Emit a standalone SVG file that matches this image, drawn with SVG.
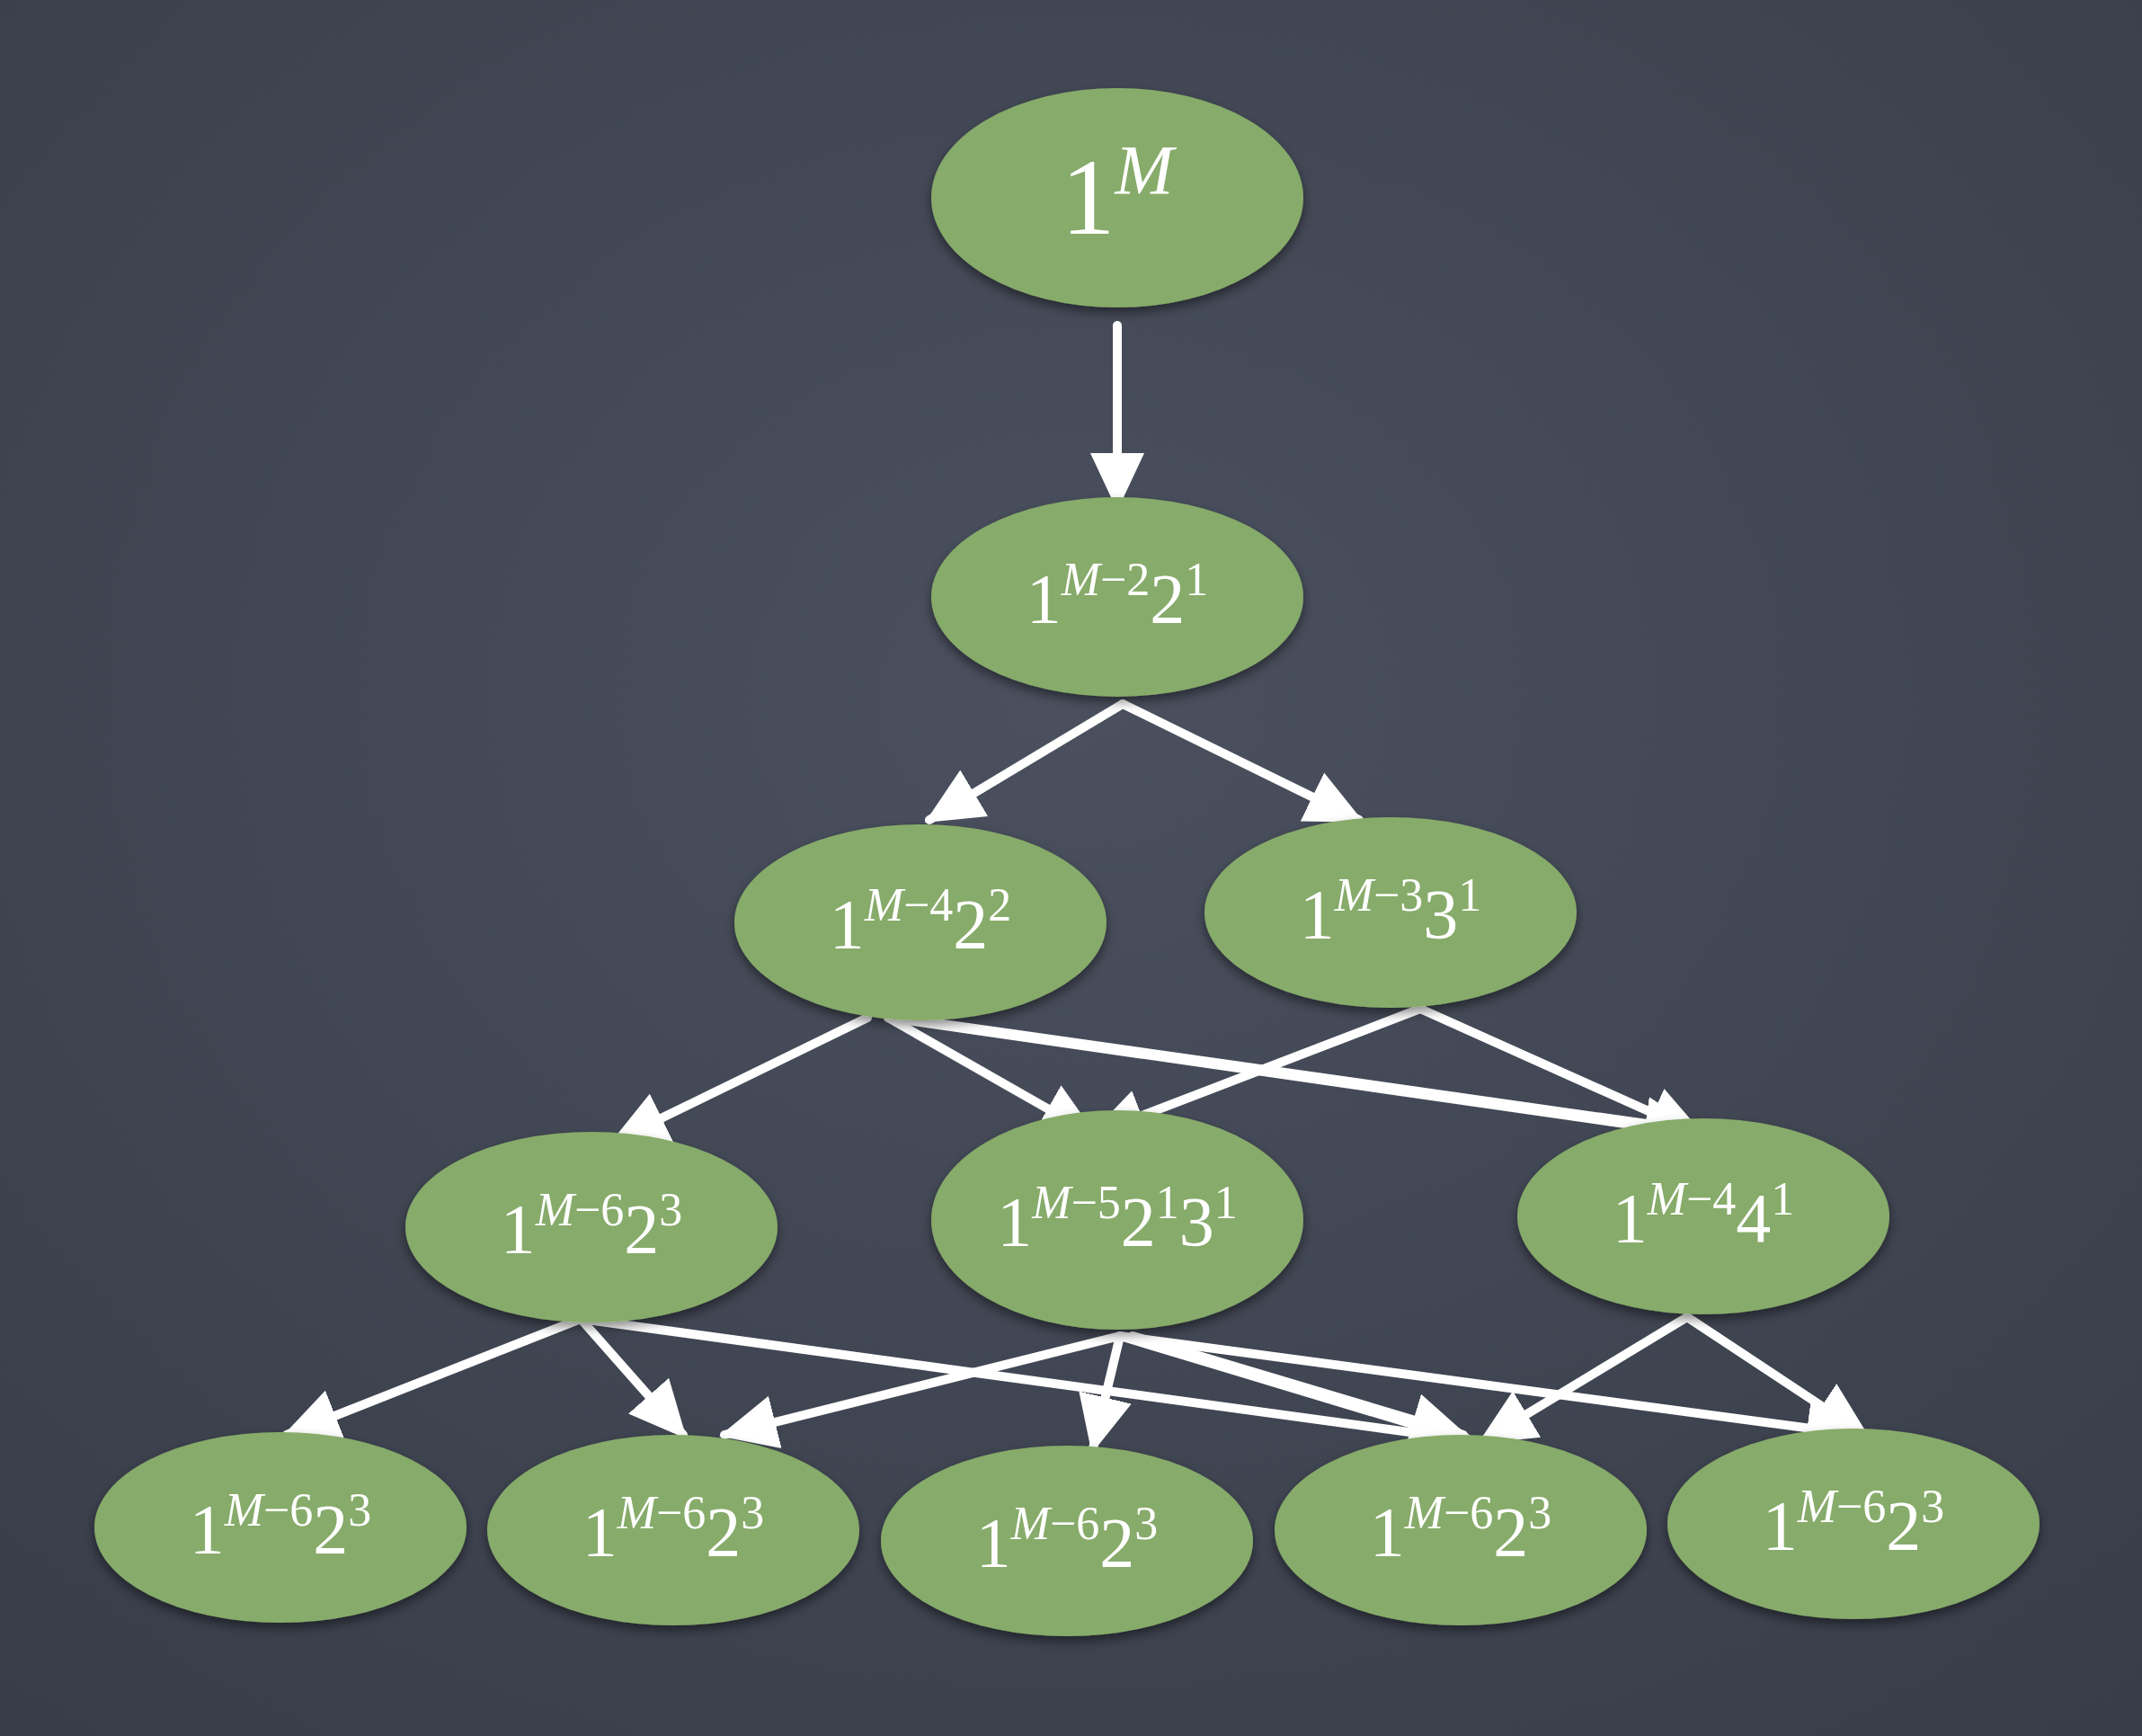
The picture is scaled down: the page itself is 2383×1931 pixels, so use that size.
<svg xmlns="http://www.w3.org/2000/svg" width="2383" height="1931" viewBox="0 0 2383 1931">
<defs>
<radialGradient id="bg" cx="0.5" cy="0.4" r="0.8"><stop offset="0" stop-color="#4a505e"/><stop offset="1" stop-color="#373c48"/></radialGradient>
<marker id="ah" markerWidth="70" markerHeight="70" refX="58" refY="35" orient="auto" markerUnits="userSpaceOnUse"><path d="M0,5 L64,35 L0,65 Z" fill="#fff"/></marker>
<filter id="sh" x="-20%" y="-20%" width="140%" height="150%"><feDropShadow dx="0" dy="6" stdDeviation="6" flood-color="#000" flood-opacity="0.45"/></filter>
</defs>
<style>
.n{fill:#87ab6a;filter:url(#sh)}
.t{font-family:"Liberation Serif","DejaVu Serif",serif;fill:#fff;text-anchor:middle;font-size:78px}
.s{font-size:52px}
.e line{stroke:#fff;stroke-width:10;stroke-linecap:round;marker-end:url(#ah)}
</style>
<rect width="2383" height="1931" fill="url(#bg)"/>
<g class="e" id="connectors">
<line x1="1243" y1="362" x2="1243" y2="562"/>
<line x1="1249" y1="783" x2="1034" y2="912"/>
<line x1="1249" y1="783" x2="1512" y2="912"/>
<line x1="965" y1="1132" x2="684" y2="1269"/>
<line x1="988" y1="1132" x2="1216" y2="1262"/>
<line x1="988" y1="1132" x2="1892" y2="1262"/>
<line x1="1000" y1="1132" x2="1888" y2="1258"/>
<line x1="1580" y1="1122" x2="1216" y2="1262"/>
<line x1="1580" y1="1122" x2="1892" y2="1262"/>
<line x1="646" y1="1467" x2="319" y2="1596"/>
<line x1="646" y1="1467" x2="760" y2="1596"/>
<line x1="646" y1="1467" x2="1641" y2="1603"/>
<line x1="1246" y1="1486" x2="806" y2="1596"/>
<line x1="1246" y1="1486" x2="1216" y2="1611"/>
<line x1="1246" y1="1486" x2="1634" y2="1603"/>
<line x1="1260" y1="1486" x2="1628" y2="1596"/>
<line x1="1246" y1="1486" x2="2068" y2="1596"/>
<line x1="1877" y1="1465" x2="1649" y2="1603"/>
<line x1="1877" y1="1465" x2="2075" y2="1596"/>
</g>
<g id="n1"><ellipse class="n" cx="1243" cy="220" rx="207" ry="122"/><text class="t" x="1243" y="260" style="font-size:120px">1<tspan class="s" style="font-size:78px;font-style:italic" dy="-45">M</tspan></text></g>
<g id="n2"><ellipse class="n" cx="1243" cy="664" rx="207" ry="111"/><text class="t" x="1243" y="692">1<tspan class="s" dy="-30"><tspan font-style="italic">M</tspan>−2</tspan><tspan dy="30">2</tspan><tspan class="s" dy="-30">1</tspan></text></g>
<g id="n3"><ellipse class="n" cx="1024" cy="1026" rx="207" ry="109"/><text class="t" x="1024" y="1054">1<tspan class="s" dy="-30"><tspan font-style="italic">M</tspan>−4</tspan><tspan dy="30">2</tspan><tspan class="s" dy="-30">2</tspan></text></g>
<g id="n4"><ellipse class="n" cx="1547" cy="1015" rx="207" ry="106"/><text class="t" x="1547" y="1043">1<tspan class="s" dy="-30"><tspan font-style="italic">M</tspan>−3</tspan><tspan dy="30">3</tspan><tspan class="s" dy="-30">1</tspan></text></g>
<g id="n5"><ellipse class="n" cx="658" cy="1365" rx="207" ry="106"/><text class="t" x="658" y="1393">1<tspan class="s" dy="-30"><tspan font-style="italic">M</tspan>−6</tspan><tspan dy="30">2</tspan><tspan class="s" dy="-30">3</tspan></text></g>
<g id="n6"><ellipse class="n" cx="1243" cy="1357" rx="207" ry="122"/><text class="t" x="1243" y="1385">1<tspan class="s" dy="-30"><tspan font-style="italic">M</tspan>−5</tspan><tspan dy="30">2</tspan><tspan class="s" dy="-30">1</tspan><tspan dy="30">3</tspan><tspan class="s" dy="-30">1</tspan></text></g>
<g id="n7"><ellipse class="n" cx="1895" cy="1353" rx="207" ry="109"/><text class="t" x="1895" y="1381">1<tspan class="s" dy="-30"><tspan font-style="italic">M</tspan>−4</tspan><tspan dy="30">4</tspan><tspan class="s" dy="-30">1</tspan></text></g>
<g id="b1"><ellipse class="n" cx="312" cy="1699" rx="207" ry="106"/><text class="t" x="312" y="1727">1<tspan class="s" dy="-30"><tspan font-style="italic">M</tspan>−6</tspan><tspan dy="30">2</tspan><tspan class="s" dy="-30">3</tspan></text></g>
<g id="b2"><ellipse class="n" cx="749" cy="1702" rx="207" ry="106"/><text class="t" x="749" y="1730">1<tspan class="s" dy="-30"><tspan font-style="italic">M</tspan>−6</tspan><tspan dy="30">2</tspan><tspan class="s" dy="-30">3</tspan></text></g>
<g id="b3"><ellipse class="n" cx="1187" cy="1714" rx="207" ry="106"/><text class="t" x="1187" y="1742">1<tspan class="s" dy="-30"><tspan font-style="italic">M</tspan>−6</tspan><tspan dy="30">2</tspan><tspan class="s" dy="-30">3</tspan></text></g>
<g id="b4"><ellipse class="n" cx="1625" cy="1702" rx="207" ry="106"/><text class="t" x="1625" y="1730">1<tspan class="s" dy="-30"><tspan font-style="italic">M</tspan>−6</tspan><tspan dy="30">2</tspan><tspan class="s" dy="-30">3</tspan></text></g>
<g id="b5"><ellipse class="n" cx="2062" cy="1695" rx="207" ry="106"/><text class="t" x="2062" y="1723">1<tspan class="s" dy="-30"><tspan font-style="italic">M</tspan>−6</tspan><tspan dy="30">2</tspan><tspan class="s" dy="-30">3</tspan></text></g>
</svg>
